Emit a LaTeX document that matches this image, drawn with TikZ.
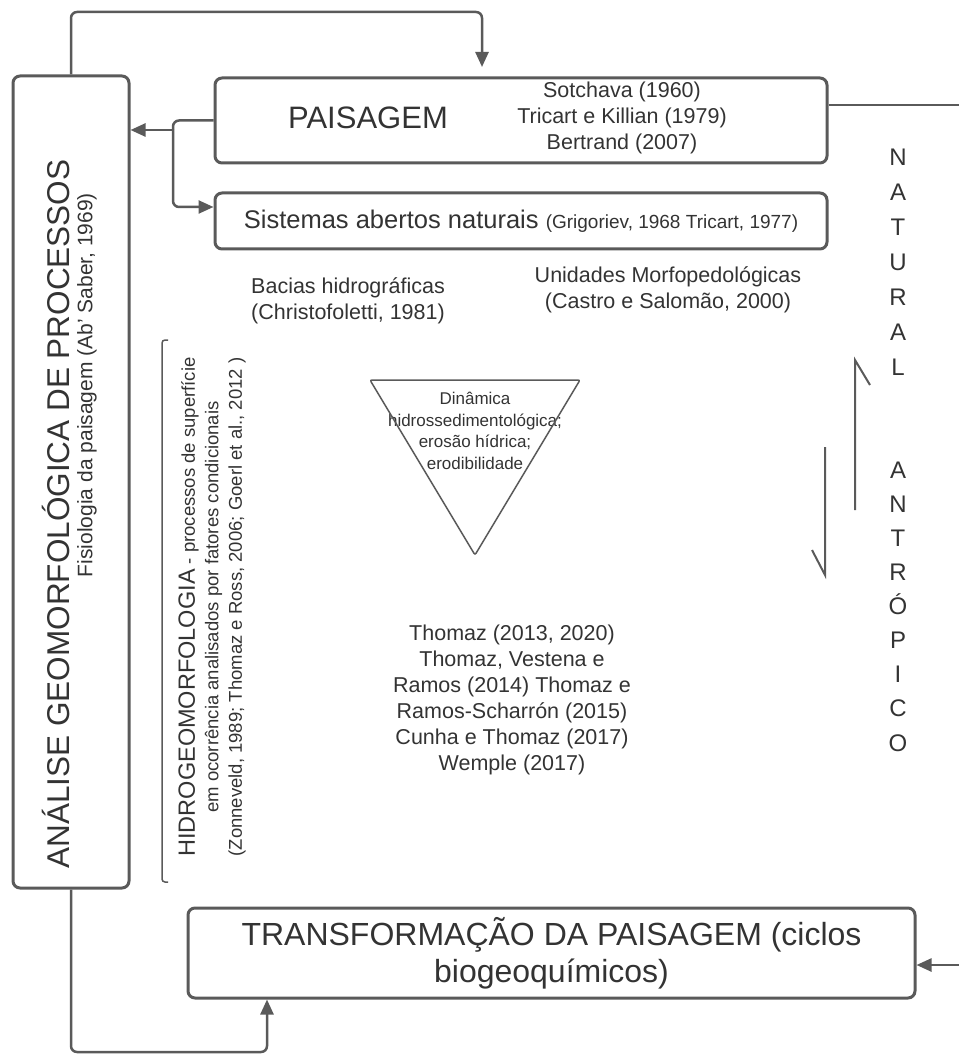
\documentclass[tikz,border=0pt]{standalone}
\usepackage{fontspec}
\setmainfont{Liberation Sans}
\usetikzlibrary{arrows.meta}
\definecolor{linegray}{HTML}{5A5A5A}
\definecolor{textgray}{HTML}{333333}

\begin{document}
\begin{tikzpicture}[x=1pt,y=-1pt,
  box/.style={draw=linegray, line width=3pt, rounded corners=7pt, inner sep=0pt, text=textgray, align=center},
  link/.style={draw=linegray, line width=2.5pt, rounded corners=6pt},
  tip/.style={-{Triangle[length=15pt,width=13pt]}},
  txt/.style={text=textgray, align=center, inner sep=0pt},
  thinline/.style={draw=linegray, line width=1.5pt}]
\useasboundingbox (0,0) rectangle (958,1056);

% boxes
\node[box, minimum width=116pt, minimum height=812pt] (analise) at (71,482) {};
\node[box, minimum width=612pt, minimum height=85pt] (paisagem) at (521,120.5) {};
\node[box, minimum width=612pt, minimum height=56pt] (sistemas) at (521,221)
  {\fontsize{25.5}{28}\selectfont Sistemas abertos naturais \fontsize{19}{22}\selectfont(Grigoriev, 1968 Tricart, 1977)};
\node[box, minimum width=727pt, minimum height=90pt, font=\fontsize{32}{37}\selectfont] (transf) at (551.5,953)
  {TRANSFORMAÇÃO DA PAISAGEM (ciclos\\biogeoquímicos)};

% texts
\node[txt, rotate=90, font=\fontsize{31.5}{37}\selectfont] (analisetit) at (56,514) {ANÁLISE GEOMORFOLÓGICA DE PROCESSOS};
\node[txt, rotate=90, font=\fontsize{21}{25}\selectfont] (fisiologia) at (87,385) {Fisiologia da paisagem (Ab' Saber, 1969)};
\node[txt, font=\fontsize{31}{36}\selectfont] (paisagemtit) at (368,118) {PAISAGEM};
\node[txt, font=\fontsize{21.5}{26}\selectfont] (paisagemref) at (622,118) {Sotchava (1960)\\Tricart e Killian (1979)\\Bertrand (2007)};
\node[txt, font=\fontsize{21.5}{26}\selectfont] (bacias) at (348,301) {Bacias hidrográficas\\(Christofoletti, 1981)};
\node[txt, font=\fontsize{21.5}{26}\selectfont] (unidades) at (668,290) {Unidades Morfopedológicas\\(Castro e Salomão, 2000)};
\node[txt, rotate=90, font=\fontsize{18.5}{23.5}\selectfont] (hidro) at (212,607)
  {{\fontsize{23.5}{23.5}\selectfont HIDROGEOMORFOLOGIA} - processos de superfície\\em ocorrência analisados por fatores condicionais\\(Zonneveld, 1989; Thomaz e Ross, 2006; Goerl et al., 2012 )};
\node[txt, font=\fontsize{17}{21.5}\selectfont] (dinamica) at (475,431) {Dinâmica\\hidrossedimentológica;\\erosão hídrica;\\erodibilidade};
\node[txt, font=\fontsize{21.5}{26}\selectfont] (thomaz) at (512,700)
  {Thomaz (2013, 2020)\\Thomaz, Vestena e\\Ramos (2014) Thomaz e\\Ramos-Scharrón (2015)\\Cunha e Thomaz (2017)\\Wemple (2017)};
\node[txt, font=\fontsize{24}{35}\selectfont] (natural) at (898,262) {N\\A\\T\\U\\R\\A\\L};
\node[txt, font=\fontsize{24}{34.1}\selectfont] (antropico) at (898,606.5) {A\\N\\T\\R\\Ó\\P\\I\\C\\O};

% bracket and triangle
\draw[thinline, rounded corners=3pt] (168,340) -- (162,340) -- (162,882) -- (168,882);
\draw[thinline, rounded corners=2pt] (370,380) -- (580,380) -- (475,555) -- cycle;

% half arrows
\draw[thinline, line width=2pt] (855,510) -- (855,360) -- (870,385);
\draw[thinline, line width=2pt] (825,447) -- (825,575) -- (812,550);

% connectors
\coordinate (paisagemin) at (482,67);
\coordinate (fork) at (173,130);
\coordinate (rightout) at (960,105);
\coordinate (rightin) at (960,965);
\coordinate (bottomturn) at (267,1052);

\draw[link, tip] (analise.north) |- (paisagemin |- 0,12) -- (paisagemin);
\draw[link] (paisagem.west) -| (fork);
\draw[link, tip] (fork) -- (fork -| analise.east);
\draw[link, tip] (fork) |- ([yshift=14pt]sistemas.west);
\draw[link] (paisagem.east |- rightout) -- (rightout);
\draw[link, tip] (rightin) -- (rightin -| transf.east);
\draw[link, tip] (analise.south) |- (bottomturn) -- (bottomturn |- transf.south);
\end{tikzpicture}
\end{document}
